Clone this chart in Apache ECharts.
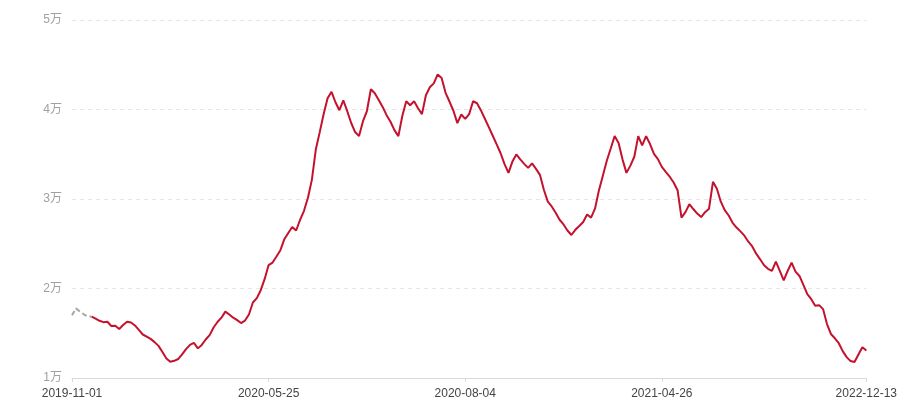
<!DOCTYPE html>
<html>
<head>
<meta charset="utf-8">
<script src="https://cdn.jsdelivr.net/npm/echarts@6/dist/echarts.min.js"></script>
<style>html,body{margin:0;padding:0;background:#fff}#c{width:900px;height:400px}</style>
</head>
<body>
<div id="c"></div>
<script>
// Tick labels on the category axis and their positions (data indices)
const tickDates = ['2019-11-01', '2020-05-25', '2020-08-04', '2021-04-26', '2022-12-13'];
const tickIndex = [0, 50, 100, 150, 202];

// Y axis ticks
const yTicks = [10000, 20000, 30000, 40000, 50000];

// Dashed grey lead-in (first points)
const leadValues = [17000, 17780, 17430, 17120, 16880, 16860];

// Main red series (starting at index 5)
const mainValues = [
  16860, 16630, 16390, 16240, 16290, 15810, 15840, 15480, 15920, 16290,
  16200, 15870, 15370, 14860, 14630, 14370, 14010, 13590, 12910, 12180,
  11810, 11920, 12120, 12640, 13230, 13700, 13920, 13310, 13700, 14300,
  14790, 15640, 16260, 16740, 17420, 17090, 16740, 16460, 16140, 16420,
  17090, 18440, 18930, 19810, 21070, 22620, 22900, 23580, 24280, 25510,
  26200, 26870, 26480, 27670, 28680, 30140, 32140, 35530, 37470, 39490,
  41260, 41980, 40810, 39920, 41030, 39810, 38490, 37480, 37030, 38700,
  39830, 42260, 41810, 41060, 40290, 39370, 38630, 37700, 37030, 39280,
  40920, 40480, 40920, 40140, 39480, 41590, 42480, 42920, 43920, 43530,
  41860, 40890, 39860, 38480, 39440, 38960, 39480, 40920, 40700, 39900,
  38970, 38030, 37070, 36110, 35110, 33900, 32920, 34180, 34980, 34420,
  33920, 33480, 33980, 33370, 32700, 31030, 29700, 29170, 28470, 27680,
  27160, 26480, 25980, 26560, 26990, 27430, 28260, 27920, 28920, 30960,
  32610, 34270, 35640, 37030, 36260, 34430, 32920, 33730, 34720, 37030,
  35980, 37030, 36140, 35030, 34460, 33590, 33030, 32490, 31840, 30980,
  27920, 28530, 29420, 28880, 28370, 27980, 28530, 28920, 31920, 31140,
  29700, 28760, 28160, 27340, 26810, 26380, 25900, 25230, 24700, 23890,
  23260, 22590, 22200, 21960, 23000, 21960, 20920, 21960, 22890, 21890,
  21400, 20400, 19370, 18810, 18070, 18140, 17700, 16030, 14920, 14440,
  13890, 13000, 12330, 11890, 11780, 12620, 13440, 13070
];
const mainStart = 5;

const total = mainStart + mainValues.length;
const categories = Array.from({length: total}, (_, i) => String(i));
const leadData = categories.map((_, i) => i < leadValues.length ? leadValues[i] : null);
const mainData = categories.map((_, i) => i >= mainStart ? mainValues[i - mainStart] : null);
const showTick = (idx) => tickIndex.indexOf(idx) >= 0;

const chart = echarts.init(document.getElementById('c'), null, {renderer: 'canvas'});
chart.setOption({
  animation: false,
  grid: {left: 72, right: 32, top: 20, bottom: 21, containLabel: false},
  xAxis: {
    type: 'category',
    data: categories,
    boundaryGap: false,
    axisLine: {lineStyle: {color: '#d9d9d9', width: 1}},
    axisTick: {show: true, interval: showTick, length: 4, lineStyle: {color: '#d9d9d9'}},
    axisLabel: {
      interval: showTick,
      color: '#444',
      fontSize: 12,
      fontFamily: 'Liberation Sans, Arial, sans-serif',
      margin: 10,
      formatter: (v, idx) => { const k = tickIndex.indexOf(idx); return k >= 0 ? tickDates[k] : ''; }
    },
    splitLine: {show: false}
  },
  yAxis: {
    type: 'value',
    min: yTicks[0],
    max: yTicks[yTicks.length - 1],
    interval: 10000,
    axisLine: {show: false},
    axisTick: {show: false},
    axisLabel: {
      color: '#a0a0a0',
      fontSize: 12,
      margin: 10,
      fontFamily: 'Liberation Sans, "Noto Sans CJK SC", sans-serif',
      formatter: v => (v / 10000) + '万'
    },
    splitLine: {lineStyle: {color: '#e6e6e6', type: [4, 4], width: 1}}
  },
  series: [
    {
      type: 'line', data: leadData, symbol: 'none', connectNulls: false,
      lineStyle: {color: '#a6a6a6', width: 2, type: [5, 3]}
    },
    {
      type: 'line', data: mainData, symbol: 'none', connectNulls: false,
      lineStyle: {color: '#c4122d', width: 2}
    }
  ]
});
</script>
</body>
</html>
